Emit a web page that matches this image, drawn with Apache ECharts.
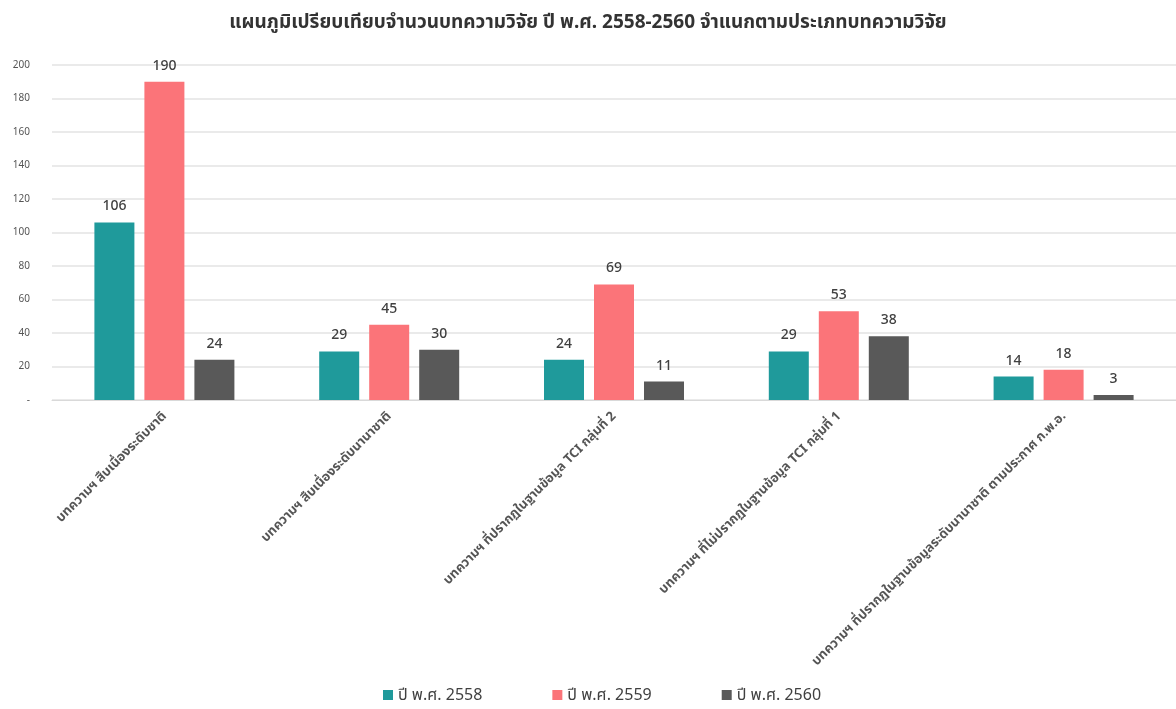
<!DOCTYPE html>
<html><head><meta charset="utf-8">
<script src="https://cdn.jsdelivr.net/npm/echarts@6/dist/echarts.min.js"></script>
<style>html,body{margin:0;padding:0;background:#fff}#c{width:1176px;height:709px}</style>
</head><body><div id="c"></div>
<script>
const categories = [
  'บทความฯ สืบเนื่องระดับชาติ',
  'บทความฯ สืบเนื่องระดับนานาชาติ',
  'บทความฯ ที่ปรากฏในฐานข้อมูล TCI กลุ่มที่ 2',
  'บทความฯ ที่ไม่ปรากฏในฐานข้อมูล TCI กลุ่มที่ 1',
  'บทความฯ ที่ปรากฏในฐานข้อมูลระดับนานาชาติ ตามประกาศ ก.พ.อ.'
];
const seriesNames = ['ปี พ.ศ. 2558', 'ปี พ.ศ. 2559', 'ปี พ.ศ. 2560'];
const y2558 = [106, 29, 24, 29, 14];
const y2559 = [190, 45, 69, 53, 18];
const y2560 = [24, 30, 11, 38, 3];
const colors = ['#1f9a9b', '#fb7479', '#595959'];
const font = '"Noto Sans", "Noto Sans Thai", Tahoma, sans-serif';

const chart = echarts.init(document.getElementById('c'));
const mk = (name, data, i) => ({
  name, type: 'bar', data, barWidth: 40, barGap: '25%',
  itemStyle: { color: colors[i] },
  label: { show: true, position: 'top', distance: 9, color: '#404040', fontSize: 14, fontWeight: 500, fontFamily: font }
});
chart.setOption({
  textStyle: { fontFamily: font },
  title: {
    text: 'แผนภูมิเปรียบเทียบจำนวนบทความวิจัย ปี พ.ศ. 2558-2560 จำแนกตามประเภทบทความวิจัย',
    left: 'center', top: 8,
    textStyle: { fontSize: 19, fontWeight: 'bold', color: '#333', fontFamily: font }
  },
  legend: {
    bottom: 1, left: 378, itemGap: 70, itemWidth: 10, itemHeight: 10, icon: 'rect',
    textStyle: { fontSize: 16, color: '#404040', fontFamily: font },
    data: seriesNames
  },
  grid: { left: 52, right: 0, top: 65, bottom: 309, containLabel: false },
  xAxis: {
    type: 'category', data: categories,
    axisLine: { lineStyle: { color: '#d9d9d9' } },
    axisTick: { show: false },
    axisLabel: { rotate: 45, interval: 0, fontSize: 13, fontWeight: 'bold', color: '#555', margin: 14, fontFamily: font }
  },
  yAxis: {
    type: 'value', min: 0, max: 200, interval: 20,
    axisLine: { show: false }, axisTick: { show: false },
    splitLine: { lineStyle: { color: '#e3e3e3', width: 1.5 } },
    axisLabel: { fontSize: 10, color: '#555', margin: 22, formatter: v => v === 0 ? '-' : v }
  },
  series: [mk(seriesNames[0], y2558, 0), mk(seriesNames[1], y2559, 1), mk(seriesNames[2], y2560, 2)]
});
</script></body></html>
